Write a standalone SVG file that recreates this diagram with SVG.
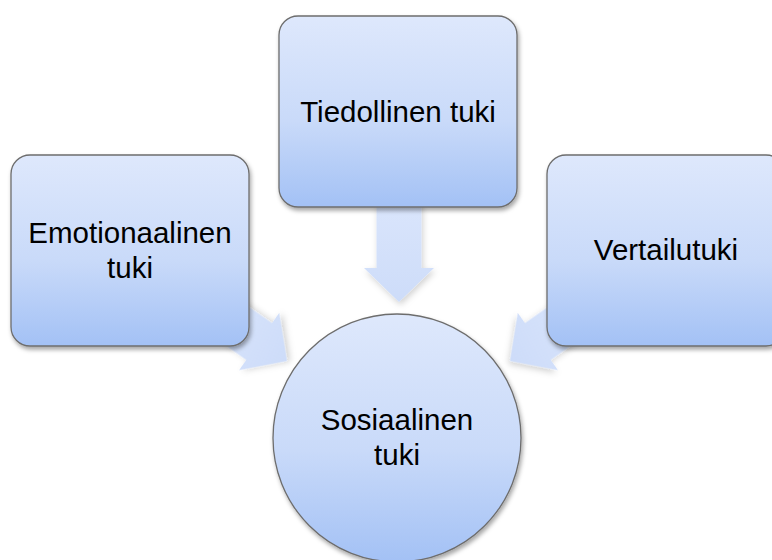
<svg xmlns="http://www.w3.org/2000/svg" width="772" height="560" viewBox="0 0 772 560">
  <defs>
    <linearGradient id="nodeFill" x1="0" y1="0" x2="0" y2="1">
      <stop offset="0" stop-color="#dee8fc"/>
      <stop offset="0.55" stop-color="#c9daf9"/>
      <stop offset="1" stop-color="#a3c1f5"/>
    </linearGradient>
    <linearGradient id="arrowFill" x1="0" y1="0" x2="0" y2="1">
      <stop offset="0" stop-color="#dbe6fc"/>
      <stop offset="1" stop-color="#cddcf9"/>
    </linearGradient>
    <filter id="shadow" x="-20%" y="-20%" width="140%" height="140%">
      <feDropShadow dx="1.5" dy="3" stdDeviation="2.2" flood-color="#000" flood-opacity="0.35"/>
    </filter>
    <filter id="arrowShadow" x="-30%" y="-30%" width="160%" height="160%">
      <feDropShadow dx="1.5" dy="3" stdDeviation="3" flood-color="#000" flood-opacity="0.18"/>
    </filter>
    <path id="arrowShape" d="M0,0 L-35,-34 L-22.5,-34 L-22.5,-110 L22.5,-110 L22.5,-34 L35,-34 Z"/>
  </defs>
  <style>
    .node { fill: url(#nodeFill); stroke: #6d6d6d; stroke-width: 1.3; filter: url(#shadow); }
    .arrow { fill: url(#arrowFill); filter: url(#arrowShadow); }
    .label { font-family: "Liberation Sans", Arial, sans-serif; font-size: 29.5px; fill: #000; text-anchor: middle; }
  </style>
  <rect width="772" height="560" fill="#ffffff"/>

  <g id="connectors">
    <use href="#arrowShape" class="arrow" transform="translate(399,302)"/>
    <use href="#arrowShape" class="arrow" transform="translate(287,361) rotate(-55)"/>
    <use href="#arrowShape" class="arrow" transform="translate(510,361) rotate(55)"/>
  </g>

  <g id="node-tiedollinen">
    <rect class="node" x="279" y="16" width="238" height="191" rx="19" ry="19"/>
    <text class="label" x="398" y="122">Tiedollinen tuki</text>
  </g>

  <g id="node-emotionaalinen">
    <rect class="node" x="11" y="155" width="238" height="191" rx="19" ry="19"/>
    <text class="label" x="130" y="243">Emotionaalinen</text>
    <text class="label" x="130" y="278">tuki</text>
  </g>

  <g id="node-vertailutuki">
    <rect class="node" x="547" y="155" width="238" height="191" rx="19" ry="19"/>
    <text class="label" x="666" y="260">Vertailutuki</text>
  </g>

  <g id="node-sosiaalinen">
    <circle class="node" cx="397" cy="438" r="124"/>
    <text class="label" x="397" y="430">Sosiaalinen</text>
    <text class="label" x="397" y="465">tuki</text>
  </g>
</svg>
